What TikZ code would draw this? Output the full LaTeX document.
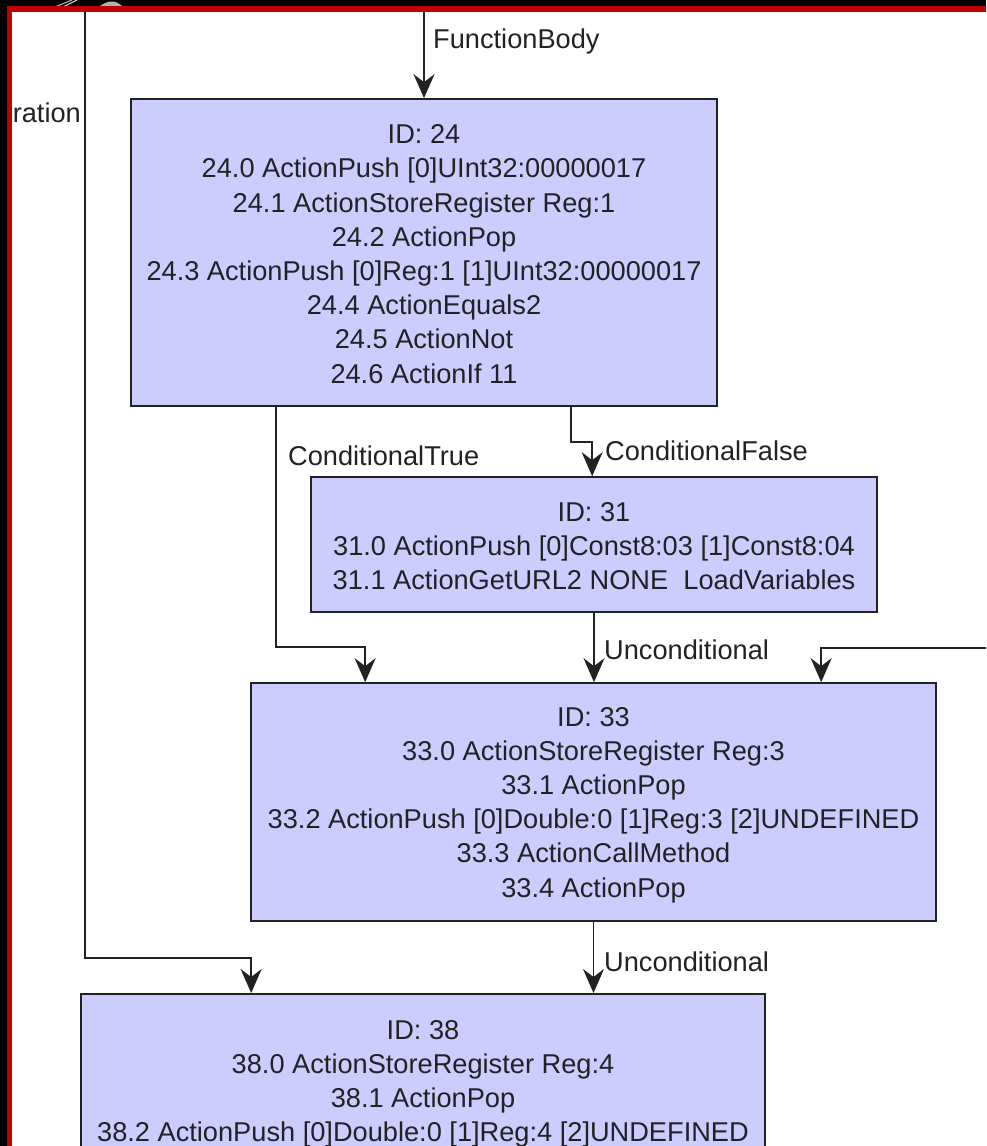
\documentclass[tikz,border=0pt]{standalone}
\usepackage{fontspec}
\setmainfont{Liberation Sans}
\usepackage{xcolor}
\usetikzlibrary{arrows.meta}

\definecolor{blkfill}{HTML}{CCCCFF}
\definecolor{ink}{HTML}{222222}
\definecolor{frame}{HTML}{C00000}

\begin{document}
\begin{tikzpicture}[x=1pt, y=-1pt,
    blk/.style={draw=ink, line width=1.7pt, fill=blkfill, rectangle, inner sep=0pt},
    txt/.style={text=ink, align=center, inner sep=0pt,
                font=\fontsize{27.2}{34.2}\selectfont},
    lbl/.style={text=ink, inner sep=0pt, font=\fontsize{27.2}{34.2}\selectfont},
    arr/.style={draw=ink, line width=1.7pt,
                -{Stealth[length=24pt, width=21pt, inset=8pt]}}]

    % Frame
    \useasboundingbox (0,0) rectangle (986,1146);
    \fill[white] (0,0) rectangle (986,1146);
    \fill[black] (0,0) rectangle (986,7);
    \fill[black] (0,0) rectangle (7,1146);
    \draw[gray!70, line width=1.2pt] (55,7) -- (72,0);
    \draw[gray!50, line width=1.2pt] (63,7) -- (77,0);
    \fill[gray!60] (100,6) .. controls (108,0) and (116,0) .. (122,6);
    \fill[frame] (7,6) rectangle (986,12);
    \fill[frame] (7,6) rectangle (12,1146);

    % Blocks
    \node[blk, minimum width=586, minimum height=307] (b24) at (424,252.5) {};
    \node[txt] at ([yshift=-1.5pt]b24.center) {ID: 24\\
        24.0 ActionPush [0]UInt32:00000017\\
        24.1 ActionStoreRegister Reg:1\\
        24.2 ActionPop\\
        24.3 ActionPush [0]Reg:1 [1]UInt32:00000017\\
        24.4 ActionEquals2\\
        24.5 ActionNot\\
        24.6 ActionIf 11};

    \node[blk, minimum width=566, minimum height=135] (b31) at (594,544.5) {};
    \node[txt] at ([yshift=-1.5pt]b31.center) {ID: 31\\
        31.0 ActionPush [0]Const8:03 [1]Const8:04\\
        31.1 ActionGetURL2 NONE\ \ LoadVariables};

    \node[blk, minimum width=685, minimum height=238] (b33) at (593.5,802) {};
    \node[txt] at ([yshift=-3pt]b33.center) {ID: 33\\
        33.0 ActionStoreRegister Reg:3\\
        33.1 ActionPop\\
        33.2 ActionPush [0]Double:0 [1]Reg:3 [2]UNDEFINED\\
        33.3 ActionCallMethod\\
        33.4 ActionPop};

    \node[blk, minimum width=684, minimum height=300, anchor=north] (b38) at (423,993) {};
    \node[txt, anchor=north] at ([yshift=-27pt]b38.north) {ID: 38\\
        38.0 ActionStoreRegister Reg:4\\
        38.1 ActionPop\\
        38.2 ActionPush [0]Double:0 [1]Reg:4 [2]UNDEFINED};

    % Incoming ends
    \coordinate (topin) at (424,12);
    \coordinate (leftin) at (85,12);
    \coordinate (rightin) at (986,648);

    % Connectors
    \draw[arr] (topin) -- (b24.north);
    \draw[arr] ([xshift=146pt]b24.south west) |- ([xshift=115pt, yshift=35pt]b33.north west)
        -- ([xshift=115pt]b33.north west);
    \draw[arr] ([xshift=441pt]b24.south west) |- ([xshift=282pt, yshift=34pt]b31.north west)
        -- ([xshift=282pt]b31.north west);
    \draw[arr] (b31.south) -- (b31.south |- b33.north);
    \draw[arr] (rightin) -| ([xshift=571pt]b33.north west);
    \draw[arr] (b33.south) -- (b33.south |- b38.north);
    \draw[arr] (leftin) |- ([xshift=171pt, yshift=35pt]b38.north west)
        -- ([xshift=171pt]b38.north west);

    % Labels
    \node[lbl, anchor=base west] at (433,48) {FunctionBody};
    \node[lbl, anchor=base east] at (81,122) {ration};
    \node[lbl, anchor=base west] at (288,465) {ConditionalTrue};
    \node[lbl, anchor=base west] at (605,460) {ConditionalFalse};
    \node[lbl, anchor=base west] at (604,659) {Unconditional};
    \node[lbl, anchor=base west] at (604,971) {Unconditional};

\end{tikzpicture}
\end{document}
